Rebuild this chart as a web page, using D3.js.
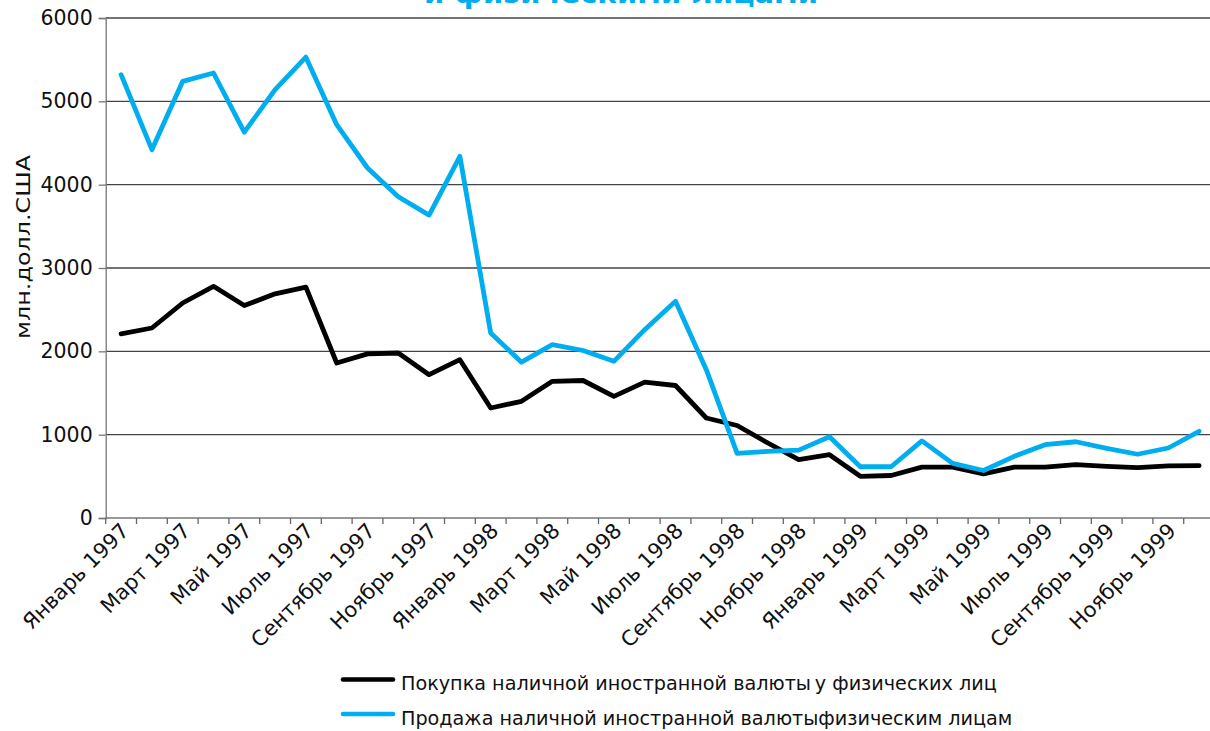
<!DOCTYPE html>
<html>
<head>
<meta charset="utf-8">
<script src="https://cdn.jsdelivr.net/npm/d3@7"></script>
<style>
  html, body { margin: 0; padding: 0; background: #fff; }
  svg { display: block; }
  text { font-family: "DejaVu Sans", sans-serif; }
</style>
</head>
<body>
<svg id="chart" width="1210" height="731"></svg>
<script>
const monthNames = ["Январь","Февраль","Март","Апрель","Май","Июнь","Июль","Август","Сентябрь","Октябрь","Ноябрь","Декабрь"];
const years = [1997, 1998, 1999];
const categories = [];
years.forEach(yr => monthNames.forEach(m => categories.push(m + " " + yr)));

const purchase = [2210, 2280, 2580, 2780, 2550, 2690, 2770, 1860, 1970, 1980, 1720, 1900,
                  1320, 1400, 1640, 1650, 1460, 1630, 1590, 1200, 1110, 900, 700, 760,
                  500, 510, 610, 610, 530, 610, 610, 640, 620, 605, 625, 628];
const sale = [5320, 4420, 5240, 5340, 4630, 5140, 5530, 4720, 4200, 3855, 3635, 4340,
              2220, 1870, 2080, 2010, 1880, 2260, 2600, 1780, 775, 800, 815, 975,
              615, 615, 925, 655, 570, 740, 880, 915, 835, 765, 840, 1040];
const yTicks = [0, 1000, 2000, 3000, 4000, 5000, 6000];
const seriesNames = ["Покупка наличной иностранной валюты\u2009у физических лиц",
                     "Продажа наличной иностранной валютыфизическим лицам"];
const titleText = "и физическими лицами";
const yTitle = "млн.долл.США";

const svg = d3.select("#chart");
const plotLeft = 105.7, plotRight = 1214.5, plotTop = 18, plotBottom = 518;

const x = d3.scaleBand().domain(categories).range([plotLeft, plotRight]).padding(0);
const y = d3.scaleLinear().domain([0, 6000]).range([plotBottom, plotTop]);

// title (cut off at top edge, as in the reference)
svg.append("text")
  .attr("x", 621).attr("y", 2.5)
  .attr("text-anchor", "middle")
  .attr("font-weight", "bold")
  .attr("font-size", 29)
  .attr("fill", "#00aeef")
  .text(titleText);

// gridlines
svg.append("g").selectAll("line").data(yTicks.filter(d => d > 0)).join("line")
  .attr("x1", plotLeft).attr("x2", 1210)
  .attr("y1", d => y(d)).attr("y2", d => y(d))
  .attr("stroke", "#444").attr("stroke-width", 1.3);

// y axis
const yAxis = d3.axisLeft(y).tickValues(yTicks).tickSize(7).tickPadding(6).tickFormat(d3.format("d"));
const gy = svg.append("g").attr("transform", `translate(${plotLeft},0)`).call(yAxis);
gy.select(".domain").attr("stroke", "#777").attr("stroke-width", 1.3);
gy.selectAll(".tick line").attr("stroke", "#777").attr("stroke-width", 1.3);
gy.selectAll(".tick text").attr("font-size", 20.5).attr("fill", "#111")
  .attr("font-family", "DejaVu Sans, sans-serif");

// x axis
const gx = svg.append("g").attr("transform", `translate(0,${plotBottom})`);
gx.append("line").attr("x1", plotLeft).attr("x2", 1210).attr("y1", 0).attr("y2", 0)
  .attr("stroke", "#777").attr("stroke-width", 1.3);
const boundaries = categories.map(c => x(c));
gx.selectAll("line.tk").data(boundaries).join("line").attr("class", "tk")
  .attr("x1", d => d).attr("x2", d => d).attr("y1", 0).attr("y2", 6)
  .attr("stroke", "#666").attr("stroke-width", 1.3);
gx.selectAll("text").data(categories.filter((c, i) => i % 2 === 0)).join("text")
  .attr("transform", d => `translate(${x(d) + x.bandwidth() / 2 + 9},${14}) rotate(-45)`)
  .attr("text-anchor", "end")
  .attr("font-size", 21)
  .attr("fill", "#111")
  .text(d => d);

// y title
svg.append("text")
  .attr("transform", `translate(30,247) rotate(-90)`)
  .attr("text-anchor", "middle")
  .attr("font-size", 20)
  .attr("textLength", 184)
  .attr("lengthAdjust", "spacingAndGlyphs")
  .attr("fill", "#111")
  .text(yTitle);

// lines
const line = d3.line().x((d, i) => x(categories[i]) + x.bandwidth() / 2).y(d => y(d));
svg.append("path").datum(purchase).attr("d", line)
  .attr("fill", "none").attr("stroke", "#000").attr("stroke-width", 4.8)
  .attr("stroke-linejoin", "round").attr("stroke-linecap", "round");
svg.append("path").datum(sale).attr("d", line)
  .attr("fill", "none").attr("stroke", "#00aeef").attr("stroke-width", 4.8)
  .attr("stroke-linejoin", "round").attr("stroke-linecap", "round");

// legend
const legendColors = ["#000", "#00aeef"];
const lg = svg.append("g");
[679.5, 714].forEach((ly, i) => {
  lg.append("line").attr("x1", 343).attr("x2", 393).attr("y1", ly).attr("y2", ly)
    .attr("stroke", legendColors[i]).attr("stroke-width", 4.5).attr("stroke-linecap", "round");
  lg.append("text").attr("x", 401).attr("y", ly + 10.5)
    .attr("font-size", 19.2).attr("fill", "#111").text(seriesNames[i]);
});
</script>
</body>
</html>
